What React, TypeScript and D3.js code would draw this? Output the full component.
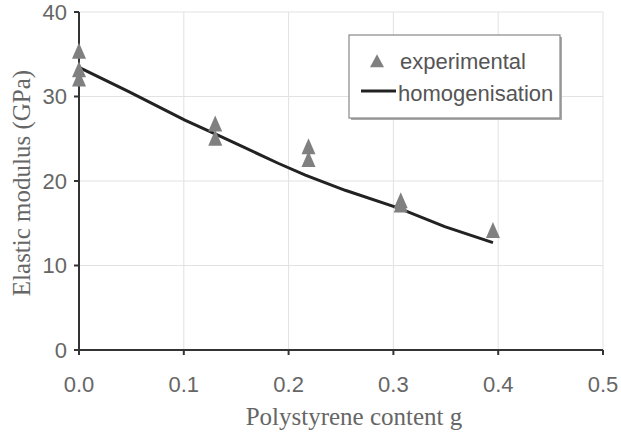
import React from "react";
import * as d3 from "d3";

const xTicks = [0, 0.1, 0.2, 0.3, 0.4, 0.5];
const yTicks = [0, 10, 20, 30, 40];
const expX = [0, 0, 0, 0.13, 0.13, 0.219, 0.219, 0.307, 0.307, 0.395];
const expY = [35.1, 32.9, 31.8, 26.5, 24.8, 23.8, 22.3, 17.4, 16.9, 13.9];
const homX = [0, 0.047, 0.101, 0.133, 0.152, 0.19, 0.216, 0.254, 0.305, 0.349, 0.395];
const homY = [33.45, 30.6, 27.2, 25.4, 24.3, 22.1, 20.7, 18.9, 16.8, 14.6, 12.7];

function triPath(w: number, h: number) {
  const p = d3.path();
  p.moveTo(0, (-2 * h) / 3);
  p.lineTo(w / 2, h / 3);
  p.lineTo(-w / 2, h / 3);
  p.closePath();
  return p.toString();
}

export default function App() {
  const W = 621, H = 438;
  const x = d3.scaleLinear().domain([0, 0.5]).range([79, 603]);
  const y = d3.scaleLinear().domain([0, 40]).range([350, 12]);
  const line = d3.line<number>().x((_, i) => x(homX[i])).y((d) => y(d));
  const tri = triPath(14, 16);
  const legTri = triPath(14, 13);
  const sans = "Liberation Sans, Arial, sans-serif";
  const serif = "Liberation Serif, Times New Roman, serif";
  return (
    <svg width={W} height={H} style={{ position: "absolute", left: 0, top: 0 }}>
      <rect width={W} height={H} fill="#fff" />
      {yTicks.filter((t) => t > 0).map((t) => (
        <line key={"gy" + t} x1={x(0)} x2={x(0.5)} y1={y(t)} y2={y(t)} stroke="#e2e2e2" strokeWidth={1} />
      ))}
      {xTicks.filter((t) => t > 0).map((t) => (
        <line key={"gx" + t} x1={x(t)} x2={x(t)} y1={y(0)} y2={y(40)} stroke="#e2e2e2" strokeWidth={1} />
      ))}
      <line x1={x(0)} x2={x(0)} y1={y(0)} y2={y(40)} stroke="#333" strokeWidth={2} />
      <line x1={x(0)} x2={x(0.5)} y1={y(0)} y2={y(0)} stroke="#333" strokeWidth={2} />
      {yTicks.map((t) => (
        <g key={"ty" + t}>
          <line x1={x(0) - 5} x2={x(0)} y1={y(t)} y2={y(t)} stroke="#333" strokeWidth={2} />
          <text x={67} y={y(t)} dy="0.36em" textAnchor="end" fontFamily={sans} fontSize={22} fill="#666">{t}</text>
        </g>
      ))}
      {xTicks.map((t) => (
        <g key={"tx" + t}>
          <line x1={x(t)} x2={x(t)} y1={y(0)} y2={y(0) + 5} stroke="#333" strokeWidth={2} />
          <text x={x(t)} y={392} textAnchor="middle" fontFamily={sans} fontSize={22} fill="#666">{t.toFixed(1)}</text>
        </g>
      ))}
      <text x={354} y={425} textAnchor="middle" fontFamily={serif} fontSize={25} fill="#666">Polystyrene content g</text>
      <text transform="translate(30,183) rotate(-90)" textAnchor="middle" fontFamily={serif} fontSize={25} fill="#666">Elastic modulus (GPa)</text>
      <path d={line(homY) || ""} fill="none" stroke="#222" strokeWidth={3} />
      {expY.map((v, i) => (
        <path key={"e" + i} d={tri} transform={`translate(${x(expX[i])},${y(v)})`} fill="#808080" />
      ))}
      <rect x={351} y={37} width={211} height={83} fill="#aaa" />
      <rect x={349} y={35} width={211} height={83} fill="#fff" stroke="#888" strokeWidth={1.2} />
      <path d={legTri} transform="translate(377,63)" fill="#808080" />
      <text x={400} y={69} fontFamily={sans} fontSize={22} fill="#555">experimental</text>
      <line x1={361} x2={396} y1={91} y2={91} stroke="#222" strokeWidth={3} />
      <text x={398} y={101} fontFamily={sans} fontSize={22} fill="#555">homogenisation</text>
    </svg>
  );
}
